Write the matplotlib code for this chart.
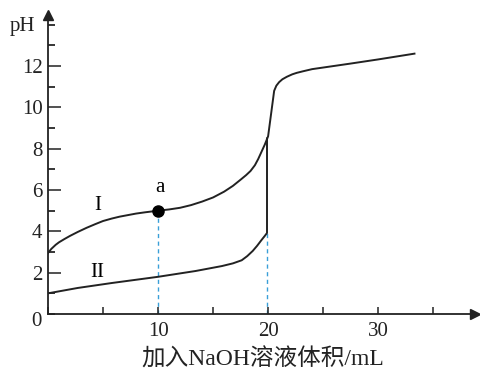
import matplotlib
matplotlib.use("Agg")
import matplotlib.pyplot as plt
from matplotlib.ticker import MultipleLocator

# ============================================================================
# Data (volume NaOH [mL], pH)
# ============================================================================
curve1_x = [0, 0.3, 0.7, 1.0, 1.5, 2.0, 2.7, 3.5, 4.3, 5.0, 5.8, 6.5, 7.3, 8.0, 8.8, 9.4,
            10, 11, 12, 13, 14, 15, 16, 16.8, 17.5, 18.0, 18.4, 18.8, 19.1, 19.4, 19.7,
            20.0, 20.3, 20.55, 20.75, 21.0, 21.3, 21.7, 22.2, 22.6, 23.2, 24, 27.5, 30, 33.3]
curve1_y = [2.95, 3.15, 3.35, 3.47, 3.63, 3.78, 3.97, 4.17, 4.35, 4.5, 4.62, 4.71, 4.79,
            4.86, 4.92, 4.96, 5.0, 5.06, 5.14, 5.27, 5.44, 5.64, 5.92, 6.2, 6.5, 6.72, 6.92,
            7.2, 7.5, 7.85, 8.2, 8.6, 9.8, 10.8, 11.05, 11.22, 11.36, 11.48, 11.6, 11.67,
            11.75, 11.85, 12.12, 12.32, 12.6]

curve2_x = [0, 2.7, 5.8, 10, 13.4, 15.8, 16.8, 17.6, 18.1, 18.6, 19.0, 19.4, 19.7, 19.9, 19.9]
curve2_y = [1.0, 1.26, 1.5, 1.8, 2.08, 2.32, 2.45, 2.6, 2.8, 3.05, 3.3, 3.58, 3.78, 3.92, 8.5]

point_a = (10, 5.0)
guide_x = [10, 19.9]
guide_top = [5.0, 3.92]

y_major = [2, 4, 6, 8, 10, 12]
x_major = [10, 20, 30]

serif = ['Liberation Serif', 'Noto Sans CJK SC']

fig = plt.figure(figsize=(4.81, 3.78), dpi=100)
ax = fig.add_axes([48 / 481, 64 / 378, 427 / 481, 299 / 378])
ax.set_xlim(0, 38.8)
ax.set_ylim(0, 14.47)

# guide lines
for gx, gt in zip(guide_x, guide_top):
    ax.plot([gx, gx], [0, gt], color='#3a9fd8', lw=1.0, ls=(0, (3, 2.5)), zorder=1)

ax.plot(curve1_x, curve1_y, color='#222222', lw=1.4, zorder=2, solid_joinstyle='round')
ax.plot(curve2_x, curve2_y, color='#222222', lw=1.4, zorder=2, solid_joinstyle='round')
ax.plot(*point_a, 'o', color='black', ms=8, zorder=3)

ax.text(4.55, 5.27, 'I', fontsize=15, family=serif, ha='center', va='center')
ax.text(4.45, 2.0, 'II', fontsize=15, family=serif, ha='center', va='center')
ax.text(10.2, 6.13, 'a', fontsize=15, family=serif, ha='center', va='center')

# axes styling
for s in ['top', 'right']:
    ax.spines[s].set_visible(False)
for s in ['left', 'bottom']:
    ax.spines[s].set_linewidth(1.3)
    ax.spines[s].set_color('#222222')

ax.set_yticks(y_major)
ax.yaxis.set_minor_locator(MultipleLocator(1))
ax.set_xticks(x_major)
ax.xaxis.set_minor_locator(MultipleLocator(5))
ax.tick_params(axis='y', which='major', direction='in', length=9, width=1.1, pad=4,
               labelsize=15, colors='#222222')
ax.tick_params(axis='y', which='minor', direction='in', length=5, width=1.1)
ax.tick_params(axis='x', which='both', direction='in', length=5, width=1.1, pad=6,
               labelsize=15, colors='#222222')
for lab in ax.get_xticklabels() + ax.get_yticklabels():
    lab.set_family(serif)

# arrow heads on the axes
ax.plot(1, 0, '>', color='#222222', ms=7, transform=ax.transAxes, clip_on=False)
ax.plot(0, 1, '^', color='#222222', ms=7, transform=ax.transAxes, clip_on=False)

fig.text(36 / 481, 1 - 322 / 378, '0', fontsize=15, family=serif, ha='center', va='center',
         color='#222222')
fig.text(22 / 481, 1 - 27 / 378, 'pH', fontsize=15, family=serif, ha='center', va='center',
         color='#222222')
fig.text(263 / 481, 1 - 360 / 378, '加入NaOH溶液体积/mL', fontsize=17, family=serif,
         ha='center', va='center', color='#222222')

fig.savefig('out.png', dpi=100)
